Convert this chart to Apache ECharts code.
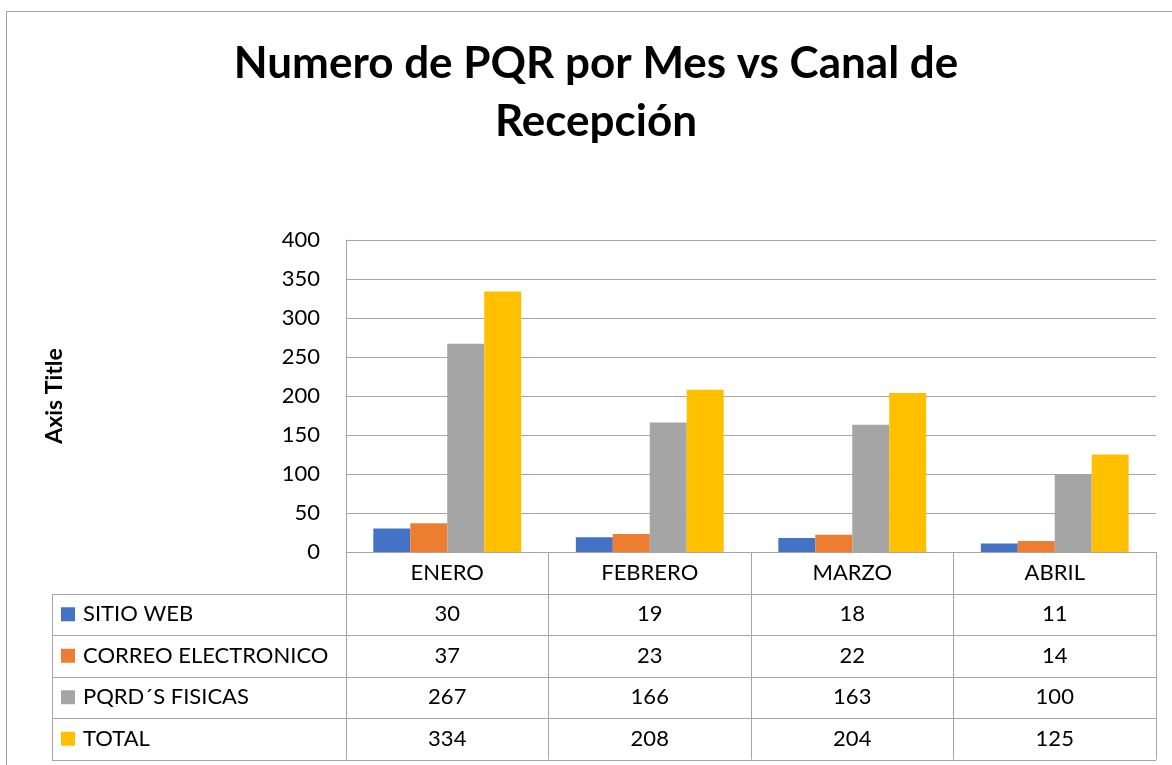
<!DOCTYPE html>
<html>
<head>
<meta charset="utf-8">
<script src="https://cdn.jsdelivr.net/npm/echarts@6/dist/echarts.min.js"></script>
<style>
html,body{margin:0;padding:0;background:#fff;}
#chart{width:1172px;height:765px;}
</style>
</head>
<body>
<div id="chart"></div>
<script>
// ---- data ----
var months = ['ENERO', 'FEBRERO', 'MARZO', 'ABRIL'];
var seriesNames = ['SITIO WEB', 'CORREO ELECTRONICO', 'PQRD\u00B4S FISICAS', 'TOTAL'];
var sitioWeb = [30, 19, 18, 11];
var correoElectronico = [37, 23, 22, 14];
var pqrdFisicas = [267, 166, 163, 100];
var total = [334, 208, 204, 125];
var yTicks = { min: 0, max: 400, interval: 50 };
var titleText = 'Numero de PQR por Mes vs Canal de\nRecepci\u00F3n';
var axisTitle = 'Axis Title';

// ---- layout ----
var FONT = 'Lato, "Open Sans", sans-serif';
var FS = 22;
var colors = ['#4472C4', '#ED7D31', '#A5A5A5', '#FFC000'];
var gridLeft = 346, gridRight = 1156, gridTop = 240, gridBottom = 552;
var rowH = 41.5;
var tableLeft = 52;
var tableBottom = gridBottom + rowH * 5;
var lineColor = '#A6A6A6';
var labelMargin = (rowH - FS) / 2;

var allSeries = [sitioWeb, correoElectronico, pqrdFisicas, total];

var xAxes = [{
  type: 'category',
  data: months,
  gridIndex: 0,
  position: 'bottom',
  axisLine: { show: true, lineStyle: { color: lineColor, width: 1 } },
  axisTick: { show: true, length: tableBottom - gridBottom, lineStyle: { color: lineColor, width: 1 } },
  axisLabel: { margin: labelMargin, fontSize: FS, lineHeight: FS, color: '#000', fontFamily: FONT },
  splitLine: { show: false }
}];
allSeries.forEach(function (vals, k) {
  xAxes.push({
    type: 'category',
    data: vals.map(String),
    gridIndex: 0,
    position: 'bottom',
    offset: rowH * (k + 1),
    axisLine: { show: false },
    axisTick: { show: false },
    axisLabel: { margin: labelMargin, fontSize: FS, lineHeight: FS, color: '#000', fontFamily: FONT },
    splitLine: { show: false }
  });
});

var graphics = [{
  type: 'rect',
  shape: { x: 6.5, y: 11.5, width: 1300, height: 900 },
  style: { fill: 'none', stroke: '#A0A0A0', lineWidth: 1 },
  silent: true
}];
for (var r = 1; r <= 5; r++) {
  var y = Math.round(gridBottom + rowH * r) + 0.5;
  graphics.push({
    type: 'line',
    shape: { x1: tableLeft, y1: y, x2: gridRight, y2: y },
    style: { stroke: lineColor, lineWidth: 1 },
    silent: true
  });
}
graphics.push({
  type: 'line',
  shape: { x1: tableLeft + 0.5, y1: Math.round(gridBottom + rowH) + 0.5, x2: tableLeft + 0.5, y2: Math.round(tableBottom) + 0.5 },
  style: { stroke: lineColor, lineWidth: 1 },
  silent: true
});

var option = {
  animation: false,
  backgroundColor: '#fff',
  color: colors,
  title: {
    text: titleText,
    left: 591,
    top: 30,
    textAlign: 'center',
    padding: 5,
    textStyle: { fontSize: 44, fontWeight: 'bold', color: '#000', fontFamily: FONT, lineHeight: 58 }
  },
  legend: {
    orient: 'vertical',
    left: 61,
    top: gridBottom + rowH + (rowH - FS) / 2,
    padding: 0,
    itemWidth: 14,
    itemHeight: 14,
    itemGap: rowH - FS,
    icon: 'rect',
    selectedMode: false,
    data: seriesNames,
    textStyle: { fontSize: FS, lineHeight: FS, color: '#000', fontFamily: FONT, padding: [0, 0, 0, 3] }
  },
  grid: {
    left: gridLeft,
    right: 1172 - gridRight,
    top: gridTop,
    bottom: 765 - gridBottom,
    containLabel: false
  },
  xAxis: xAxes,
  yAxis: {
    type: 'value',
    min: yTicks.min,
    max: yTicks.max,
    interval: yTicks.interval,
    name: axisTitle,
    nameLocation: 'middle',
    nameRotate: 90,
    nameGap: 280,
    nameTextStyle: { fontSize: 23, fontWeight: 'bold', color: '#000', fontFamily: FONT },
    axisLine: { show: true, lineStyle: { color: lineColor, width: 1 } },
    axisTick: { show: false },
    axisLabel: { margin: 26, fontSize: FS, color: '#000', fontFamily: FONT },
    splitLine: { show: true, lineStyle: { color: lineColor, width: 1 } }
  },
  series: seriesNames.map(function (name, i) {
    return {
      name: name,
      type: 'bar',
      xAxisIndex: 0,
      data: allSeries[i],
      barGap: '0%',
      barCategoryGap: '27%',
      itemStyle: { color: colors[i] }
    };
  }),
  graphic: graphics
};

var chart = echarts.init(document.getElementById('chart'), null, { renderer: 'canvas' });
chart.setOption(option);
</script>
</body>
</html>
